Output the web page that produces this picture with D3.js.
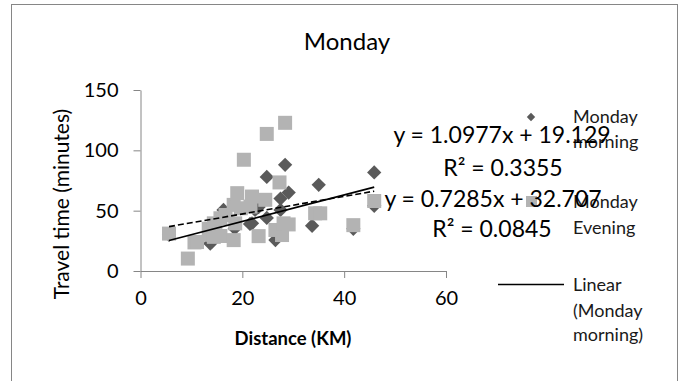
<!DOCTYPE html>
<html>
<head>
<meta charset="utf-8">
<script src="https://cdn.jsdelivr.net/npm/d3@7"></script>
<style>
  body { margin: 0; background: #fff; }
  svg { display: block; font-family: Lato, "Open Sans", sans-serif; }
</style>
</head>
<body>
<svg width="686" height="381"></svg>
<script>
// Monday morning (diamonds): [distance km, travel time min]
const morning = [
  [5.6, 30], [13.7, 22.8], [14, 24.2], [16.3, 50.6], [18.5, 35.3], [21.5, 39],
  [21.9, 39.5], [22.5, 50.6], [23.2, 53], [24.8, 44], [24.8, 78], [26.5, 25.6],
  [27.5, 50.6], [27.5, 60], [28.4, 88], [29.1, 65], [33.7, 37.5], [35, 71.4],
  [41.8, 35], [45.9, 81.7], [45.9, 54]
];
// Monday evening (squares)
const evening = [
  [5.6, 31], [9.3, 10.3], [10.6, 23.7], [11.1, 24], [13.4, 35], [13.7, 30],
  [14.4, 28.3], [14.4, 39.5], [14.7, 36.7], [15.7, 43.7], [15.7, 29], [16.7, 46.4],
  [18.3, 25.6], [18.3, 54.8], [18.6, 39.5], [19, 64.5], [19.7, 52], [20.3, 92.2],
  [21.6, 53.4], [21.9, 61.7], [23.2, 28.9], [24.5, 59], [24.8, 113.6], [26.5, 34],
  [27.3, 73.4], [27.8, 29.8], [28.1, 39.5], [28.4, 122.8], [29.1, 38.6],
  [34.3, 47.8], [35.3, 47.8], [41.8, 38], [45.9, 58]
];
// trendline coefficients as printed on the chart
const fits = [
  { name: 'Monday morning', slope: 1.0977, intercept: 19.129, r2: '0.3355', dash: null },
  { name: 'Monday Evening', slope: 0.7285, intercept: 32.707, r2: '0.0845', dash: '6,3' }
];
const fitRange = [5.6, 45.9];
const xTicks = [0, 20, 40, 60];
const yTicks = [0, 50, 100, 150];

const svg = d3.select('svg');
const axisColor = '#868686';
const darkGray = '#5a5a5a';
const lightGray = '#b3b3b3';

// chart frame
svg.append('rect')
  .attr('x', 11.5).attr('y', 4.5)
  .attr('width', 666).attr('height', 400)
  .attr('fill', 'none').attr('stroke', axisColor).attr('stroke-width', 1);

const x = d3.scaleLinear().domain([0, 60]).range([140.5, 446]);
const y = d3.scaleLinear().domain([0, 150]).range([271, 90]);

svg.append('text')
  .attr('x', 347).attr('y', 50)
  .attr('text-anchor', 'middle')
  .attr('font-size', 24)
  .text('Monday');

// axes
const xAxis = svg.append('g')
  .attr('transform', 'translate(0,271)')
  .call(d3.axisBottom(x).tickValues(xTicks).tickSize(7).tickSizeOuter(0).tickPadding(13));
const yAxis = svg.append('g')
  .attr('transform', 'translate(140.5,0)')
  .call(d3.axisLeft(y).tickValues(yTicks).tickSize(7).tickSizeOuter(0).tickPadding(15));
[xAxis, yAxis].forEach(g => {
  g.select('.domain').attr('stroke', axisColor);
  g.selectAll('.tick line').attr('stroke', axisColor);
  g.selectAll('.tick text')
    .attr('fill', '#000')
    .attr('font-family', 'Lato, sans-serif')
    .attr('font-size', 20);
});

svg.append('text')
  .attr('x', 293).attr('y', 345)
  .attr('text-anchor', 'middle')
  .attr('font-size', 18.5).attr('font-weight', 'bold')
  .text('Distance (KM)');

svg.append('text')
  .attr('transform', 'translate(69,204) rotate(-90)')
  .attr('text-anchor', 'middle')
  .attr('font-size', 21)
  .text('Travel time (minutes)');

// points
const diamond = d3.symbol().type(d3.symbolDiamond2).size(130);
svg.append('g').selectAll('path')
  .data(morning).enter().append('path')
  .attr('d', diamond)
  .attr('transform', d => `translate(${x(d[0])},${y(d[1])})`)
  .attr('fill', darkGray);

svg.append('g').selectAll('rect')
  .data(evening).enter().append('rect')
  .attr('x', d => x(d[0]) - 7)
  .attr('y', d => y(d[1]) - 7)
  .attr('width', 14).attr('height', 14)
  .attr('fill', lightGray);

// trendlines
svg.append('g').selectAll('line')
  .data(fits).enter().append('line')
  .attr('x1', x(fitRange[0]))
  .attr('y1', d => y(d.slope * fitRange[0] + d.intercept))
  .attr('x2', x(fitRange[1]))
  .attr('y2', d => y(d.slope * fitRange[1] + d.intercept))
  .attr('stroke', '#000')
  .attr('stroke-width', 1.6)
  .attr('stroke-dasharray', d => d.dash);

// legend
const legend = svg.append('g');
legend.append('path')
  .attr('d', d3.symbol().type(d3.symbolDiamond2).size(45))
  .attr('transform', 'translate(531,117)')
  .attr('fill', darkGray);
legend.append('rect')
  .attr('x', 526).attr('y', 196).attr('width', 11).attr('height', 11)
  .attr('fill', lightGray);
legend.append('line')
  .attr('x1', 498).attr('x2', 564).attr('y1', 284.5).attr('y2', 284.5)
  .attr('stroke', '#000').attr('stroke-width', 1.3);

const legendLines = [
  ['Monday', 123], ['morning', 148],
  ['Monday', 208], ['Evening', 234],
  ['Linear', 291], ['(Monday', 317], ['morning)', 341]
];
legend.selectAll('text')
  .data(legendLines).enter().append('text')
  .attr('x', 573).attr('y', d => d[1])
  .attr('font-size', 18)
  .attr('fill', '#1a1a1a')
  .text(d => d[0]);

// trendline equations
const eqPos = [[502, 143, 503, 176], [493, 207, 492, 237]];
fits.forEach((f, i) => {
  const p = eqPos[i];
  svg.append('text')
    .attr('x', p[0]).attr('y', p[1])
    .attr('text-anchor', 'middle').attr('font-size', 23)
    .text(`y = ${f.slope}x + ${f.intercept}`);
  svg.append('text')
    .attr('x', p[2]).attr('y', p[3])
    .attr('text-anchor', 'middle').attr('font-size', 23)
    .text(`R² = ${f.r2}`);
});
</script>
</body>
</html>
